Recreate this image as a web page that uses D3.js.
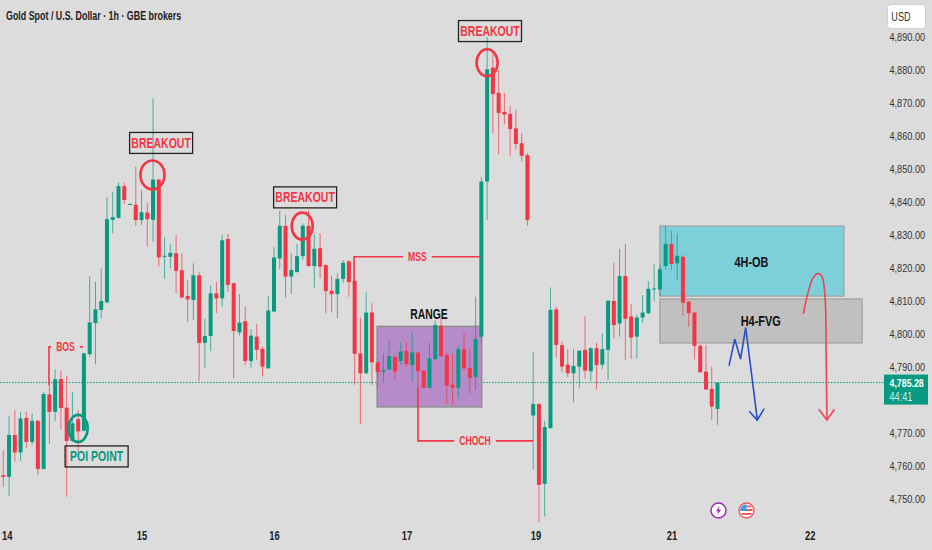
<!DOCTYPE html>
<html>
<head>
<meta charset="utf-8">
<script src="https://cdn.jsdelivr.net/npm/d3@7"></script>
<style>
  html, body { margin: 0; padding: 0; background: #dcdcdc; }
  svg { display: block; }
  text { font-family: "Liberation Sans", sans-serif; }
</style>
</head>
<body>
<div id="chart"></div>
<script>
// candles (1h bars, bar number = position in array)
const opens = [4757.2,4756.7,4769.4,4764.1,4774.6,4767.3,4773.7,4759.1,4781.7,4776.4,
  4786.3,4777.7,4767.6,4774.2,4770.7,4793.9,4803.3,4807.3,4809.6,4834.6,
  4835.2,4844.8,4839.2,4839.2,4834.5,4836.8,4834.6,4846.8,4823.5,4823.4,
  4824.5,4819.3,4811.5,4810.3,4817.8,4797.3,4799.4,4812.3,4810.8,4828.8,
  4815.4,4800.5,4803.9,4791.8,4799.2,4795.5,4789.6,4806.8,4822.9,4832.8,
  4817.4,4818.8,4823.6,4832.8,4820.6,4826,4820.9,4813.1,4812.1,4816.7,
  4822,4816.1,4794.1,4788.1,4806.5,4791.4,4788.6,4789.3,4793.1,4791.8,
  4794.9,4790.6,4794.4,4788.9,4783.7,4792.4,4802.5,4793.6,4784.6,4783.7,
  4795.4,4789.7,4786.9,4799.2,4846.2,4880.7,4873.1,4867.3,4866.7,4862.3,
  4857.8,4854.2,4775.3,4778.8,4754.6,4771.5,4807.5,4796.6,4790.7,4788.1,
  4790.1,4795.2,4788.7,4795.7,4790.7,4795.2,4810,4803.2,4817.6,4805.3,
  4799.2,4805,4806.3,4813.5,4813.5,4820.6,4827.3,4821.4,4823.4,4809.8,
  4806.5,4796.4,4788.6,4783.4,4777.3];
const highs = [4764.8,4775.1,4776.9,4776.4,4776.4,4775.9,4773.9,4782.5,4784.5,4789.3,
  4788.9,4787.3,4782.5,4776.9,4794.3,4817.5,4815.8,4819.9,4841.4,4843.1,
  4845.9,4845.9,4839.5,4850.7,4843.6,4839.8,4871.4,4847,4829.3,4827.2,
  4830,4824.4,4816.3,4821.4,4818.9,4804.7,4814.8,4815.8,4830,4830.3,
  4815.6,4812.1,4808.3,4801.4,4803,4796.2,4811.5,4826.3,4837.3,4836.1,
  4824.4,4827.3,4833.5,4837.6,4830.2,4830.5,4821.1,4817.6,4818.4,4822.4,
  4822.4,4816.4,4805,4812.6,4809.3,4791.6,4794.1,4798.2,4793.3,4797.4,
  4797.7,4800.4,4794.7,4789.1,4797.4,4804.2,4804.8,4794.4,4794.1,4796.4,
  4800.4,4795.7,4811.3,4847.5,4890,4885,4880,4873.1,4869.1,4867.9,
  4860.8,4854.8,4794.5,4779,4773.7,4814.1,4808.3,4797.7,4795.4,4795.4,
  4795.2,4805.3,4795.9,4797.4,4800.2,4810.3,4821.6,4825.8,4827.3,4809.1,
  4805.8,4811.8,4816,4821.1,4821.1,4832.7,4831.3,4830.5,4823.9,4810,
  4806.7,4796.9,4796.7,4790.1,4785.3];
const lows = [4753.7,4750.9,4761.3,4761.6,4765.3,4766.3,4757.2,4759,4766.8,4773.7,
  4771.1,4750.7,4767.3,4763.8,4770.5,4793.1,4790.8,4804.7,4809.3,4830.5,
  4835,4839.4,4839.1,4832.8,4833,4826.6,4827.9,4820.4,4816.8,4819.9,
  4812.3,4810.8,4803.7,4804.2,4785.7,4789.8,4794.8,4806.4,4808.2,4812.8,
  4786.5,4799.5,4790.6,4789.8,4792.1,4787.1,4789.5,4806.7,4819.7,4811,
  4812.1,4818.6,4822.4,4820.4,4814.1,4816.9,4806.3,4806.5,4804.8,4815.4,
  4811.3,4784.6,4772.7,4787.9,4784.6,4783.5,4785.3,4789.1,4786.1,4790.6,
  4790.1,4785.6,4784,4783.5,4783.5,4792.1,4793.1,4778.8,4778.5,4780.5,
  4789.1,4782,4783.2,4797.2,4834.5,4860.8,4854.4,4863.6,4853.8,4855.8,
  4852.2,4832.8,4759,4742.9,4744.7,4771.3,4793,4788.4,4786.9,4779.3,
  4783.6,4786.5,4785.8,4783.2,4789.3,4786,4798.7,4799.2,4792.1,4792.4,
  4792.6,4803.4,4806,4810,4811.5,4819.6,4819.4,4816.4,4805.5,4802.2,
  4792.3,4788.3,4783,4774,4772.5];
const closes = [4756.7,4769.4,4764.1,4774.4,4767.3,4773.7,4759.1,4781.8,4776.4,4786.3,
  4777.6,4767.6,4772.9,4770.5,4794.1,4803.5,4807.5,4810,4834.8,4835.4,
  4844.8,4840.6,4839.4,4834.5,4836.9,4834.8,4846.8,4823.2,4823.7,4824.6,
  4819.1,4811.1,4810.5,4817.8,4797.3,4799.4,4812.3,4810.8,4828.4,4814.9,
  4800.9,4803.5,4791.8,4799.5,4795.2,4790.1,4807.1,4823.2,4832.8,4817.4,
  4819.4,4823.6,4832.8,4820.6,4825.8,4820.4,4813,4812.1,4816.7,4821.6,
  4815.7,4794,4788.1,4806.5,4791.4,4788.4,4789.1,4793.3,4788.6,4794.7,
  4790.9,4794.4,4788.7,4783.7,4792.6,4802.7,4793.3,4784.3,4783.7,4795.4,
  4789.6,4786.7,4798.5,4846.2,4880.2,4872.7,4867,4866.5,4862.1,4857.6,
  4854,4834.5,4778.8,4754.3,4771.8,4807.3,4796.7,4790.1,4788.1,4790.3,
  4794.9,4788.9,4795.7,4790.6,4795.4,4810.1,4802.7,4817.6,4804.6,4798.9,
  4805,4806.5,4813.7,4813.8,4819.6,4827.3,4821.2,4823.7,4809.5,4806.3,
  4796.4,4788.4,4783.2,4778,4785.28];

// axis ticks (4,780 sits under the last price label in the reference)
const priceTicks = [4890,4880,4870,4860,4850,4840,4830,4820,4810,4800,4790,4770,4760,4750];
const dayBars = [0.6,24,47,70,92.4,116,140];
const dayLabels = ["14","15","16","17","19","21","22"];
const lastPrice = 4785.28;
const countdown = "44:41";

// drawings on the chart, in [bar, price]
const zones = [
  { name: "4H-OB", bars: [114, 145.95], prices: [4832.7, 4811.5], fill: "#7dd0da", stroke: "#a3a9ab", at: [129.9, 4821.8] },
  { name: "H4-FVG", bars: [114, 149.1], prices: [4810.6, 4797.3], fill: "#c0c0c0", stroke: "#a6a6a6", at: [131.5, 4803.9] }
];
const rangeBox = { bars: [64.9, 83.06], prices: [4802.3, 4777.9] };
const rings = [
  { at: [25.9, 4848.2], rx: 12, ry: 14.5, color: "#f23645" },
  { at: [51.9, 4832.7], rx: 10.5, ry: 13.5, color: "#f23645" },
  { at: [84, 4882.2], rx: 10.5, ry: 13.5, color: "#f23645" },
  { at: [13, 4771.4], rx: 9.5, ry: 13.5, color: "#089981" }
];
const tags = [
  { text: "BREAKOUT", at: [27.4, 4857.9], color: "#f23645" },
  { text: "BREAKOUT", at: [52.4, 4841.4], color: "#f23645" },
  { text: "BREAKOUT", at: [84.5, 4891.8], color: "#f23645" },
  { text: "POI POINT", at: [16.2, 4762.9], color: "#089981" }
];
const connectors = [
  { text: "BOS", path: [[7.93, 4784.5], [7.93, 4796.1], [13.84, 4796.1]], mid: 10.8 },
  { text: "MSS", path: [[60.9, 4815.8], [60.9, 4823.4], [82.8, 4823.4]], mid: 71.9 },
  { text: "CHOCH", path: [[72, 4784], [72, 4767.6], [92, 4767.6]], mid: 81.9 }
];
const bluePath = [[126, 4790.4], [127, 4798.4], [128, 4792.4], [128.9, 4801.9], [130.9, 4774.2]];
const blueHead = [[129.5, 4776.6], [130.9, 4773.9], [132.1, 4777.4]];
const redPath = [[138.9, 4806.1], [139.7, 4812.4], [140.6, 4817], [141.4, 4818.3], [142.1, 4817.6], [142.7, 4810.3], [142.85, 4795.2], [143, 4773.9]];
const redHead = [[141.6, 4777.2], [143, 4773.9], [144.3, 4777.2]];

const width = 932, height = 550;
const up = "#089981", down = "#f23645", bg = "#dcdcdc";

const x = d3.scaleLinear().domain([0, 124]).range([3.3, 717.5]);
const y = d3.scaleLinear().domain([4890, 4750]).range([37, 499]);

// no narrow font on the box, so squeeze the glyphs to the reference width
function narrow(sel, ratio) {
  sel.each(function () {
    const w = this.getComputedTextLength();
    d3.select(this)
      .attr("textLength", w * ratio)
      .attr("lengthAdjust", "spacingAndGlyphs");
  });
}

const svg = d3.select("#chart").append("svg")
  .attr("width", width)
  .attr("height", height);

svg.append("rect").attr("width", width).attr("height", height).attr("fill", bg);

// header
svg.append("text")
  .attr("x", 6).attr("y", 20)
  .attr("font-size", 12).attr("font-weight", 700).attr("fill", "#222")
  .text("Gold Spot / U.S. Dollar · 1h · GBE brokers")
  .call(narrow, 0.74);

// last price line
svg.append("line")
  .attr("x1", 0).attr("x2", 884)
  .attr("y1", y(lastPrice)).attr("y2", y(lastPrice))
  .attr("stroke", up).attr("stroke-width", 1).attr("stroke-dasharray", "1.5,1.5");

// zones go under the candles
svg.selectAll("rect.zone")
  .data(zones)
  .join("rect")
  .attr("class", "zone")
  .attr("x", d => x(d.bars[0]))
  .attr("y", d => y(d.prices[0]))
  .attr("width", d => x(d.bars[1]) - x(d.bars[0]))
  .attr("height", d => y(d.prices[1]) - y(d.prices[0]))
  .attr("fill", d => d.fill)
  .attr("stroke", d => d.stroke)
  .attr("stroke-width", 1.5);

svg.append("rect")
  .attr("x", x(rangeBox.bars[0]))
  .attr("y", y(rangeBox.prices[0]))
  .attr("width", x(rangeBox.bars[1]) - x(rangeBox.bars[0]))
  .attr("height", y(rangeBox.prices[1]) - y(rangeBox.prices[0]))
  .attr("fill", "#b68bc9")
  .attr("stroke", "#8f8f8f")
  .attr("stroke-width", 1.5);

// candles
const bars = d3.range(opens.length);
const candle = svg.append("g").selectAll("g").data(bars).join("g");

candle.append("line")
  .attr("x1", i => x(i)).attr("x2", i => x(i))
  .attr("y1", i => y(highs[i])).attr("y2", i => y(lows[i]))
  .attr("stroke", i => closes[i] >= opens[i] ? up : down)
  .attr("stroke-opacity", 0.7);

candle.append("rect")
  .attr("x", i => x(i) - 2)
  .attr("width", 4)
  .attr("y", i => y(Math.max(opens[i], closes[i])))
  .attr("height", i => Math.max(1, Math.abs(y(opens[i]) - y(closes[i]))))
  .attr("fill", i => closes[i] >= opens[i] ? up : down);

// BOS / MSS / CHOCH connectors
const line = d3.line().x(d => x(d[0])).y(d => y(d[1]));

connectors.forEach(c => {
  svg.append("path")
    .attr("d", line(c.path))
    .attr("fill", "none")
    .attr("stroke", down)
    .attr("stroke-width", 1.6);
  const level = c.path[2][1];
  const t = svg.append("text")
    .attr("x", x(c.mid)).attr("y", y(level))
    .attr("dy", "0.35em")
    .attr("text-anchor", "middle")
    .attr("font-size", 12).attr("font-weight", 700)
    .attr("fill", down)
    .text(c.text)
    .call(narrow, 0.72);
  const b = t.node().getBBox();
  svg.insert("rect", () => t.node())
    .attr("x", b.x - 5).attr("y", b.y)
    .attr("width", b.width + 10).attr("height", b.height)
    .attr("fill", bg);
});

// rings round the highs and the POI
svg.append("g").selectAll("ellipse")
  .data(rings)
  .join("ellipse")
  .attr("cx", d => x(d.at[0]))
  .attr("cy", d => y(d.at[1]))
  .attr("rx", d => d.rx)
  .attr("ry", d => d.ry)
  .attr("fill", "none")
  .attr("stroke", d => d.color)
  .attr("stroke-width", 2.6);

// boxed labels
const tag = svg.append("g").selectAll("g")
  .data(tags)
  .join("g")
  .attr("transform", d => `translate(${x(d.at[0])},${y(d.at[1])})`);

tag.append("rect")
  .attr("x", -31.5).attr("y", -10.5)
  .attr("width", 63).attr("height", 21)
  .attr("fill", "none")
  .attr("stroke", "#222")
  .attr("stroke-width", 1.3);

tag.append("text")
  .attr("text-anchor", "middle")
  .attr("dy", "0.36em")
  .attr("font-size", 14).attr("font-weight", 700)
  .attr("fill", d => d.color)
  .text(d => d.text)
  .call(narrow, 0.75);

// zone names
svg.append("g").selectAll("text")
  .data(zones)
  .join("text")
  .attr("x", d => x(d.at[0]))
  .attr("y", d => y(d.at[1]))
  .attr("dy", "0.36em")
  .attr("text-anchor", "middle")
  .attr("font-size", 14).attr("font-weight", 700)
  .attr("fill", "#111")
  .text(d => d.name)
  .call(narrow, 0.78);

svg.append("text")
  .attr("x", x(73.9)).attr("y", y(4806))
  .attr("dy", "0.36em")
  .attr("text-anchor", "middle")
  .attr("font-size", 14).attr("font-weight", 700)
  .attr("fill", "#111")
  .text("RANGE")
  .call(narrow, 0.74);

// hand drawn arrows
[bluePath, blueHead].forEach(p => {
  svg.append("path")
    .attr("d", line(p))
    .attr("fill", "none")
    .attr("stroke", "#2a4fc4")
    .attr("stroke-width", 1.6);
});

svg.append("path")
  .attr("d", d3.line().x(d => x(d[0])).y(d => y(d[1])).curve(d3.curveCatmullRom)(redPath))
  .attr("fill", "none")
  .attr("stroke", "#ec4555")
  .attr("stroke-width", 1.6);

svg.append("path")
  .attr("d", line(redHead))
  .attr("fill", "none")
  .attr("stroke", "#ec4555")
  .attr("stroke-width", 1.6);

// event icons
const flash = svg.append("g").attr("transform", "translate(718.5,510.5)");
flash.append("circle").attr("r", 7.5).attr("fill", "#fff").attr("stroke", "#9c27b0").attr("stroke-width", 1.4);
flash.append("path").attr("d", "M1,-4.5L-2.5,0.8H-0.3L-1,4.5L2.5,-0.8H0.3Z").attr("fill", "#9c27b0");

svg.append("clipPath").attr("id", "flag").append("circle").attr("r", 6.2);
const flag = svg.append("g").attr("transform", "translate(746.5,510.5)");
flag.append("circle").attr("r", 7.5).attr("fill", "#fff").attr("stroke", "#ec5a64").attr("stroke-width", 1.4);
const flagInner = flag.append("g").attr("clip-path", "url(#flag)");
flagInner.append("rect").attr("x", -7).attr("y", -1.5).attr("width", 14).attr("height", 2).attr("fill", "#ef5350");
flagInner.append("rect").attr("x", -7).attr("y", 2.5).attr("width", 14).attr("height", 1.8).attr("fill", "#ef5350");
flagInner.append("rect").attr("x", 0).attr("y", -5).attr("width", 7).attr("height", 1.8).attr("fill", "#ef5350");
flagInner.append("rect").attr("x", -7).attr("y", -7).attr("width", 7).attr("height", 7.5).attr("fill", "#3f9be8");

// price axis
const yAxis = d3.axisRight(y)
  .tickValues(priceTicks)
  .tickSize(0)
  .tickPadding(0)
  .tickFormat(d3.format(",.2f"));

const yG = svg.append("g")
  .attr("transform", "translate(889.5,0)")
  .call(yAxis);
yG.select(".domain").remove();
yG.selectAll("text")
  .attr("font-family", "Liberation Sans")
  .attr("font-size", 11)
  .attr("fill", "#333")
  .call(narrow, 0.83);

// time axis
const xAxis = d3.axisBottom(x)
  .tickValues(dayBars)
  .tickSize(0)
  .tickPadding(0)
  .tickFormat((d, i) => dayLabels[i]);

const xG = svg.append("g")
  .attr("transform", "translate(0,531)")
  .call(xAxis);
xG.select(".domain").remove();
xG.selectAll("text")
  .attr("font-family", "Liberation Sans")
  .attr("font-size", 12)
  .attr("font-weight", 700)
  .attr("fill", "#222")
  .call(narrow, 0.78);

// currency button
svg.append("rect")
  .attr("x", 887.5).attr("y", 4.5)
  .attr("width", 38).attr("height", 24)
  .attr("rx", 3)
  .attr("fill", "#fff")
  .attr("stroke", "#cfcfcf");
svg.append("text")
  .attr("x", 901).attr("y", 20.5)
  .attr("text-anchor", "middle")
  .attr("font-size", 12)
  .attr("fill", "#333")
  .text("USD")
  .call(narrow, 0.76);

// last price label
svg.append("rect")
  .attr("x", 884).attr("y", y(lastPrice) - 8)
  .attr("width", 44).attr("height", 30)
  .attr("fill", up);
svg.append("text")
  .attr("x", 889.5).attr("y", y(lastPrice) + 4)
  .attr("font-size", 11).attr("font-weight", 700)
  .attr("fill", "#fff")
  .text(d3.format(",.2f")(lastPrice))
  .call(narrow, 0.8);
svg.append("text")
  .attr("x", 889.5).attr("y", y(lastPrice) + 18)
  .attr("font-size", 12)
  .attr("fill", "#d5efe9")
  .text(countdown)
  .call(narrow, 0.76);
</script>
</body>
</html>
